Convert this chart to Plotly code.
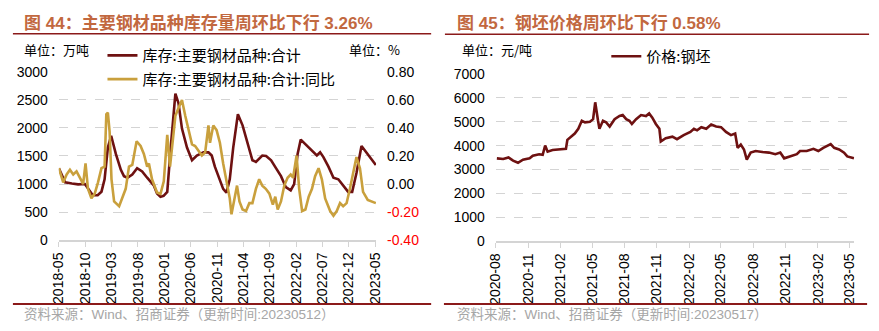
import plotly.graph_objects as go

# ---------------- data: left panel ----------------
inv_dates = ["2018-05-01", "2018-06-06", "2018-07-15", "2018-08-20", "2018-09-28", "2018-11-13",
             "2018-12-11", "2019-01-02", "2019-01-20", "2019-02-08", "2019-02-27", "2019-03-26",
             "2019-04-24", "2019-05-12", "2019-06-01", "2019-06-29", "2019-07-27", "2019-08-25",
             "2019-09-23", "2019-11-01", "2019-11-19", "2019-12-09", "2019-12-27", "2020-01-17",
             "2020-02-06", "2020-03-04", "2020-03-22", "2020-04-11", "2020-05-10", "2020-06-08",
             "2020-07-06", "2020-08-13", "2020-09-11", "2020-09-30", "2020-10-18", "2020-11-16",
             "2020-12-05", "2020-12-24", "2021-01-12", "2021-02-01", "2021-02-28", "2021-03-27",
             "2021-04-25", "2021-05-23", "2021-06-12", "2021-07-19", "2021-08-10", "2021-09-08",
             "2021-10-06", "2021-11-04", "2021-12-02", "2021-12-30", "2022-01-19", "2022-02-08",
             "2022-02-26", "2022-03-25", "2022-05-02", "2022-05-30", "2022-06-18", "2022-07-07",
             "2022-08-05", "2022-09-03", "2022-10-01", "2022-10-29", "2022-11-27", "2022-12-20",
             "2023-01-14", "2023-02-12", "2023-03-10", "2023-04-08", "2023-05-06"]
inv_vals = [1280, 1030, 1010, 995, 1000, 800,
            800, 864, 1085, 1650, 1860, 1537,
            1254, 1141, 1113, 1170, 1283, 1226,
            1113, 971, 830, 775, 790, 860,
            1650, 2610, 2440, 1988, 1650, 1424,
            1508, 1565, 1565, 1508, 1310, 1085,
            915, 848, 1085, 1650, 2243, 2046,
            1707, 1424, 1395, 1508, 1500, 1424,
            1283, 1141, 944, 887, 1000, 1537,
            1792, 1707, 1593, 1508, 1565, 1480,
            1310, 1113, 1085, 971, 860, 860,
            1198, 1678, 1565, 1452, 1339]

yoy_dates = ["2018-05-01", "2018-05-26", "2018-06-15", "2018-07-04", "2018-07-23", "2018-08-11",
             "2018-09-09", "2018-09-18", "2018-10-02", "2018-10-16", "2018-11-05", "2018-11-24",
             "2018-12-13", "2019-01-02", "2019-01-20", "2019-01-30", "2019-02-08", "2019-02-18",
             "2019-03-01", "2019-03-16", "2019-04-14", "2019-05-03", "2019-05-22", "2019-06-10",
             "2019-06-29", "2019-07-24", "2019-08-16", "2019-09-04", "2019-09-23", "2019-10-03",
             "2019-10-21", "2019-11-19", "2019-12-09", "2019-12-28", "2020-01-17", "2020-02-02",
             "2020-02-15", "2020-03-04", "2020-03-22", "2020-04-11", "2020-04-30", "2020-05-19",
             "2020-06-08", "2020-06-26", "2020-07-15", "2020-08-04", "2020-08-23", "2020-09-11",
             "2020-09-20", "2020-10-09", "2020-10-28", "2020-11-16", "2020-12-05", "2020-12-24",
             "2021-01-12", "2021-01-22", "2021-02-10", "2021-02-23", "2021-03-09", "2021-03-27",
             "2021-04-16", "2021-05-05", "2021-05-23", "2021-06-12", "2021-07-01", "2021-07-19",
             "2021-08-08", "2021-08-29", "2021-09-18", "2021-10-02", "2021-10-16", "2021-11-04",
             "2021-11-23", "2021-12-12", "2021-12-30", "2022-01-13", "2022-02-02", "2022-02-17",
             "2022-03-06", "2022-03-25", "2022-04-13", "2022-05-02", "2022-05-20", "2022-06-09",
             "2022-06-28", "2022-07-17", "2022-08-15", "2022-09-03", "2022-09-22", "2022-10-11",
             "2022-10-29", "2022-11-18", "2022-12-07", "2022-12-25", "2023-01-14", "2023-02-03",
             "2023-02-21", "2023-03-20", "2023-04-17", "2023-05-06"]
yoy_vals = [0.113, 0.012, 0.068, 0.102, 0.068, 0.090,
            0.022, 0.000, 0.147, -0.034, -0.102, -0.068,
            0.012, 0.113, 0.124, 0.497, 0.509, 0.373,
            0.034, -0.124, -0.158, -0.090, -0.034, 0.124,
            0.136, 0.305, 0.271, 0.215, 0.124, 0.147,
            0.034, -0.060, -0.070, 0.020, 0.351, 0.124,
            0.260, 0.486, 0.542, 0.599, 0.486, 0.396,
            0.283, 0.271, 0.237, 0.203, 0.226, 0.418,
            0.294, 0.418, 0.384, 0.294, 0.147, 0.034,
            -0.102, -0.215, -0.079, -0.011, -0.124, -0.181,
            -0.192, -0.136, -0.136, -0.034, 0.034, -0.011,
            -0.034, -0.068, -0.147, -0.090, -0.181, -0.124,
            -0.011, 0.045, 0.068, 0.045, 0.203, -0.034,
            -0.192, -0.181, -0.090, -0.034, 0.056, 0.113,
            0.034, -0.102, -0.192, -0.226, -0.192, -0.136,
            -0.158, -0.136, -0.034, 0.079, 0.192, 0.113,
            -0.056, -0.113, -0.124, -0.136]

left_tick_vals = ["2018-05-01", "2018-10-01", "2019-03-01", "2019-08-01", "2020-01-01", "2020-06-01",
                  "2020-11-01", "2021-04-01", "2021-09-01", "2022-02-01", "2022-07-01", "2022-12-01",
                  "2023-05-01"]
left_tick_text = ["2018-05", "2018-10", "2019-03", "2019-08", "2020-01", "2020-06", "2020-11",
                  "2021-04", "2021-09", "2022-02", "2022-07", "2022-12", "2023-05"]
y2_vals = [-0.4, -0.2, 0.0, 0.2, 0.4, 0.6, 0.8]
y2_text = ["<span style='color:#FF0000'>-0.40</span>", "<span style='color:#FF0000'>-0.20</span>",
           "0.00", "0.20", "0.40", "0.60", "0.80"]

# ---------------- data: right panel ----------------
price_dates = ["2020-08-04", "2020-08-22", "2020-09-06", "2020-09-19", "2020-10-03", "2020-10-17",
               "2020-11-05", "2020-11-14", "2020-12-02", "2020-12-12", "2020-12-19", "2020-12-26",
               "2021-01-09", "2021-01-28", "2021-02-16", "2021-02-20", "2021-03-04", "2021-03-13",
               "2021-03-23", "2021-04-02", "2021-04-11", "2021-04-25", "2021-05-04", "2021-05-10",
               "2021-05-18", "2021-05-22", "2021-06-01", "2021-06-10", "2021-06-20", "2021-07-04",
               "2021-07-18", "2021-07-27", "2021-08-06", "2021-08-15", "2021-08-22", "2021-09-03",
               "2021-09-17", "2021-10-01", "2021-10-10", "2021-10-19", "2021-10-29", "2021-11-08",
               "2021-11-12", "2021-11-26", "2021-12-15", "2021-12-28", "2022-01-16", "2022-02-04",
               "2022-02-14", "2022-02-23", "2022-03-07", "2022-03-21", "2022-04-04", "2022-04-18",
               "2022-05-02", "2022-05-16", "2022-05-30", "2022-06-11", "2022-06-18", "2022-06-27",
               "2022-07-06", "2022-07-14", "2022-07-25", "2022-08-08", "2022-08-27", "2022-09-15",
               "2022-10-03", "2022-10-17", "2022-10-28", "2022-11-14", "2022-12-03", "2022-12-12",
               "2022-12-31", "2023-01-19", "2023-02-02", "2023-02-16", "2023-03-01", "2023-03-09",
               "2023-03-19", "2023-04-02", "2023-04-16", "2023-04-25", "2023-05-14"]
price_vals = [3467, 3440, 3507, 3373, 3280, 3413,
              3467, 3573, 3640, 3613, 4000, 3747,
              3813, 3840, 3867, 4240, 4373, 4507,
              4707, 5040, 4973, 5000, 5107, 5813,
              5040, 4707, 5040, 4973, 4800, 5107,
              5240, 5280, 5107, 5040, 4907, 5107,
              5280, 5240, 5347, 5173, 4907, 4707,
              4173, 4307, 4373, 4267, 4440, 4573,
              4707, 4640, 4773, 4707, 4880, 4800,
              4773, 4573, 4440, 4507, 3907, 4040,
              3840, 3413, 3707, 3773, 3733, 3707,
              3640, 3707, 3467, 3547, 3640, 3773,
              3773, 3867, 3773, 3907, 4000, 4067,
              3907, 3840, 3707, 3547, 3467]

right_tick_vals = ["2020-08-01", "2020-11-01", "2021-02-01", "2021-05-01", "2021-08-01", "2021-11-01",
                   "2022-02-01", "2022-05-01", "2022-08-01", "2022-11-01", "2023-02-01", "2023-05-01"]
right_tick_text = ["2020-08", "2020-11", "2021-02", "2021-05", "2021-08", "2021-11",
                   "2022-02", "2022-05", "2022-08", "2022-11", "2023-02", "2023-05"]

# ---------------- styling ----------------
W, H = 879, 331
DARK = "#6E1111"
GOLD = "#C9A03D"
GRID = "#D4D4D4"
TITLE_C = "#C2683F"
RULE_C = "#8B1A1A"
NUM_FONT = "Liberation Sans, Arial, Noto Sans CJK SC"
CJK_FONT = "Noto Sans CJK SC, Liberation Sans"


def px(x):
    return x / W


def py(y):
    return (H - y) / H


fig = go.Figure()
fig.add_trace(go.Scatter(x=inv_dates, y=inv_vals, mode="lines", name="库存:主要钢材品种:合计",
                         line=dict(color=DARK, width=2.6), xaxis="x", yaxis="y", legend="legend"))
fig.add_trace(go.Scatter(x=yoy_dates, y=yoy_vals, mode="lines", name="库存:主要钢材品种:合计:同比",
                         line=dict(color=GOLD, width=2.6), xaxis="x", yaxis="y2", legend="legend2"))
fig.add_trace(go.Scatter(x=price_dates, y=price_vals, mode="lines", name="价格:钢坯",
                         line=dict(color=DARK, width=2.6), xaxis="x2", yaxis="y3", legend="legend3"))

xcommon = dict(type="date", tickangle=-90, ticks="outside", ticklen=5, tickcolor=GRID,
               showline=True, linecolor=GRID, linewidth=1.5, showgrid=False, zeroline=False,
               tickfont=dict(family=NUM_FONT, size=14, color="#000000"), fixedrange=True)
ycommon = dict(showgrid=True, gridcolor=GRID, griddash="dash", gridwidth=1, zeroline=False,
               ticks="", showline=False, ticklabelstandoff=10,
               tickfont=dict(family=NUM_FONT, size=14, color="#000000"), fixedrange=True)

fig.update_layout(
    width=W, height=H, margin=dict(l=0, r=0, t=0, b=0),
    paper_bgcolor="white", plot_bgcolor="white",
    xaxis=dict(domain=[px(51.7), px(374)], anchor="y", range=["2018-05-01", "2023-05-07"],
               tickvals=left_tick_vals, ticktext=left_tick_text, **xcommon),
    yaxis=dict(domain=[py(244), py(67)], anchor="x", range=[0, 3000], dtick=500, **ycommon),
    yaxis2=dict(overlaying="y", side="right", anchor="x", range=[-0.4, 0.8],
                tickvals=y2_vals, ticktext=y2_text, showgrid=False, zeroline=False, ticks="",
                ticklabelstandoff=10, tickfont=dict(family=NUM_FONT, size=14, color="#000000"),
                fixedrange=True),
    xaxis2=dict(domain=[px(495.7), px(860)], anchor="y3", range=["2020-08-01", "2023-05-15"],
                tickvals=right_tick_vals, ticktext=right_tick_text, **xcommon),
    yaxis3=dict(domain=[py(245), py(69.3)], anchor="x2", range=[0, 7000], dtick=1000, **ycommon),
    legend=dict(x=px(96), y=py(50), xanchor="left", yanchor="middle", bgcolor="rgba(0,0,0,0)",
                font=dict(family=CJK_FONT, size=15, color="#000000"), itemwidth=30),
    legend2=dict(x=px(96), y=py(75), xanchor="left", yanchor="middle", bgcolor="rgba(0,0,0,0)",
                 font=dict(family=CJK_FONT, size=15, color="#000000"), itemwidth=30),
    legend3=dict(x=px(608), y=py(51), xanchor="left", yanchor="middle", bgcolor="rgba(0,0,0,0)",
                 font=dict(family=CJK_FONT, size=15, color="#000000"), itemwidth=30),
    showlegend=True,
)

ann = []


def text(x, y, s, size, color, bold=False, family=CJK_FONT, xanchor="left"):
    ann.append(dict(x=px(x), y=py(y), xref="paper", yref="paper", text=(f"<b>{s}</b>" if bold else s),
                    showarrow=False, xanchor=xanchor, yanchor="middle",
                    font=dict(family=family, size=size, color=color)))


text(14, 16, "图 44：主要钢材品种库存量周环比下行 3.26%", 17, TITLE_C, bold=True, family=NUM_FONT)
text(454, 16, "图 45：钢坯价格周环比下行 0.58%", 17, TITLE_C, bold=True, family=NUM_FONT)
text(14, 44, "单位：万吨", 13, "#000000")
text(344, 44, "单位：%", 13, "#000000")
text(459, 44, "单位：元/吨", 13, "#000000")
text(14, 322, "资料来源：Wind、招商证券（更新时间:20230512）", 13.5, "#A6A6A6", family=NUM_FONT)
text(454, 322, "资料来源：Wind、招商证券（更新时间:20230517）", 13.5, "#A6A6A6", family=NUM_FONT)
fig.update_layout(annotations=ann)

shapes = []
for x0, x1, y, w in [(5, 430, 27, 1.5), (444, 875, 27.5, 1.5), (5, 430, 311, 2), (443, 873, 311, 2)]:
    shapes.append(dict(type="line", xref="paper", yref="paper", x0=px(x0), x1=px(x1),
                       y0=py(y), y1=py(y), line=dict(color=RULE_C, width=w)))
fig.update_layout(shapes=shapes)

fig.write_html("out.html")
